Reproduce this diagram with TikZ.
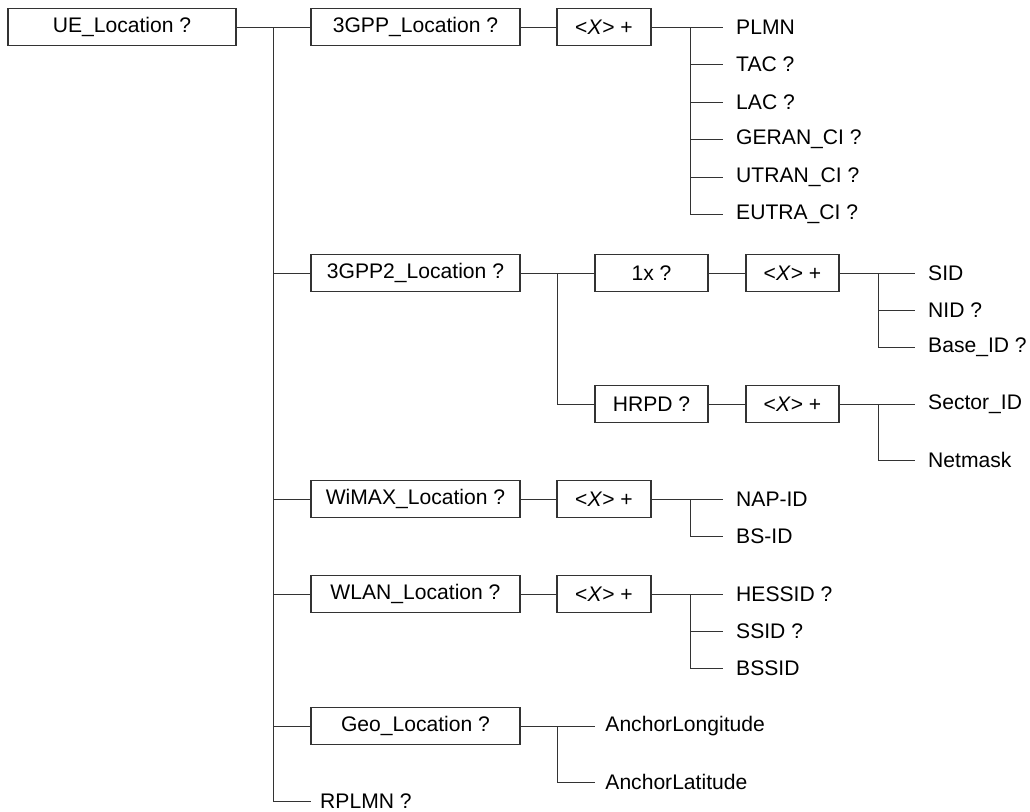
\documentclass[tikz,border=0pt]{standalone}
\usepackage{fontspec}
\setmainfont{Liberation Sans}
\begin{document}
\begin{tikzpicture}[
    x=0.025cm, y=-0.025cm, line width=0.6pt, color=black!80,
    every node/.style={font=\fontsize{15}{18}\selectfont, text=black},
    box/.style={draw=black!80, line width=0.8pt, minimum height=0.925cm, inner sep=0pt},
    wide/.style={box, minimum width=5.225cm},
    rep/.style={box, minimum width=2.35cm},
    mid/.style={box, minimum width=2.825cm},
    leaf/.style={anchor=west, inner xsep=0.32cm, inner ysep=0pt}]
  % fixed 1030 x 811 canvas
  \path[use as bounding box] (0,0) rectangle (1030,811);

  % ================= root and trunk =================
  \node[box, minimum width=5.7cm] (ue) at (122,27) {UE\_Location ?};
  \coordinate (trunk) at (273,27);
  \node[leaf, inner xsep=0.22cm] (rplmn) at (311,801) {RPLMN ?};

  % ================= 3GPP =================
  \node[wide] (gpp) at (415.5,27) {3GPP\_Location ?};
  \node[rep] (gppx) at (604,27) {<\textit{X}> +};
  \coordinate (gppb) at (690,27);
  \foreach \t/\y [count=\i] in {PLMN/27, TAC ?/64, LAC ?/102, GERAN\_CI ?/139,
                                UTRAN\_CI ?/177, EUTRA\_CI ?/214}
    \node[leaf] (gppl\i) at (723,\y) {\t};

  % ================= 3GPP2 =================
  \node[wide] (gpptwo) at (415.5,273) {3GPP2\_Location ?};
  \coordinate (gpptwob) at (557,273);
  \node[mid] (onex) at (651.5,273) {1x ?};
  \node[box, minimum width=2.325cm] (onexx) at (792.5,273) {<\textit{X}> +};
  \coordinate (onexb) at (878,273);
  \foreach \t/\y [count=\i] in {SID/273, NID ?/310, Base\_ID ?/347}
    \node[leaf] (onexl\i) at (915,\y) {\t};
  \node[mid] (hrpd) at (651.5,404) {HRPD ?};
  \node[box, minimum width=2.325cm] (hrpdx) at (792.5,404) {<\textit{X}> +};
  \coordinate (hrpdb) at (878,404);
  \foreach \t/\y [count=\i] in {Sector\_ID/404, Netmask/460}
    \node[leaf] (hrpdl\i) at (915,\y) {\t};

  % ================= WiMAX =================
  \node[wide] (wimax) at (415.5,499) {WiMAX\_Location ?};
  \node[rep] (wimaxx) at (604,499) {<\textit{X}> +};
  \coordinate (wimaxb) at (690,499);
  \foreach \t/\y [count=\i] in {NAP-ID/499, BS-ID/536}
    \node[leaf] (wimaxl\i) at (723,\y) {\t};

  % ================= WLAN =================
  \node[wide] (wlan) at (415.5,594) {WLAN\_Location ?};
  \node[rep] (wlanx) at (604,594) {<\textit{X}> +};
  \coordinate (wlanb) at (690,594);
  \foreach \t/\y [count=\i] in {HESSID ?/594, SSID ?/631, BSSID/668}
    \node[leaf] (wlanl\i) at (723,\y) {\t};

  % ================= Geo =================
  \node[wide] (geo) at (415.5,726) {Geo\_Location ?};
  \coordinate (geob) at (557,726);
  \foreach \t/\y [count=\i] in {AnchorLongitude/726, AnchorLatitude/782}
    \node[leaf, inner xsep=0.25cm] (geol\i) at (595,\y) {\t};

  % ================= connectors =================
  \draw (ue) -- (gpp);
  \foreach \c in {gpptwo, wimax, wlan, geo, rplmn}
    \draw (trunk) |- (\c.west);
  \draw (gpp) -- (gppx);
  \draw (gppx) -- (gppl1);
  \foreach \i in {2,...,6}
    \draw (gppb) |- (gppl\i.west);
  \draw (gpptwo) -- (onex);
  \draw (gpptwob) |- (hrpd.west);
  \draw (onex) -- (onexx) (onexx) -- (onexl1);
  \foreach \i in {2,3}
    \draw (onexb) |- (onexl\i.west);
  \draw (hrpd) -- (hrpdx) (hrpdx) -- (hrpdl1);
  \draw (hrpdb) |- (hrpdl2.west);
  \draw (wimax) -- (wimaxx) (wimaxx) -- (wimaxl1);
  \draw (wimaxb) |- (wimaxl2.west);
  \draw (wlan) -- (wlanx) (wlanx) -- (wlanl1);
  \foreach \i in {2,3}
    \draw (wlanb) |- (wlanl\i.west);
  \draw (geo) -- (geol1);
  \draw (geob) |- (geol2.west);
\end{tikzpicture}
\end{document}
